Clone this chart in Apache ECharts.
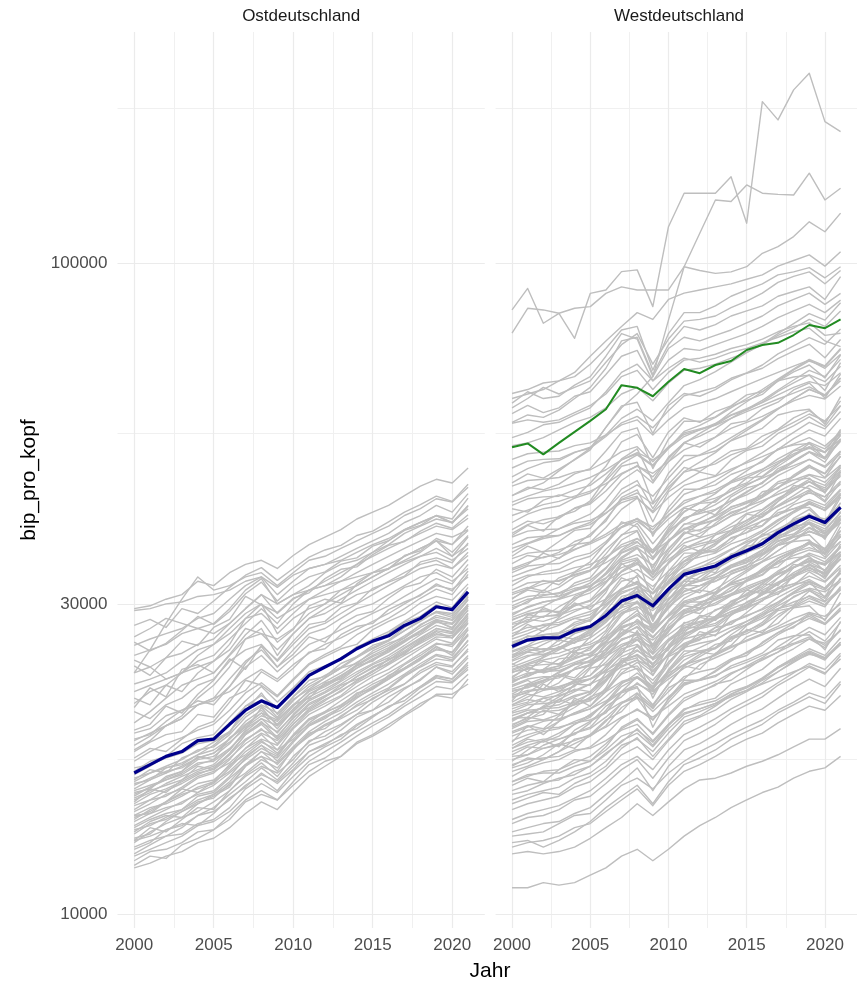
<!DOCTYPE html>
<html>
<head>
<meta charset="utf-8">
<script src="https://cdn.jsdelivr.net/npm/echarts@6.0.0/dist/echarts.min.js"></script>
<style>
html,body{margin:0;padding:0;background:#ffffff;}
#chart{width:857px;height:984px;}
</style>
</head>
<body>
<div id="chart"></div>
<script>
// ---------- Daten (Werte in Tausend Euro je Einwohner) ----------
const jahre = [2000,2001,2002,2003,2004,2005,2006,2007,2008,2009,2010,2011,2012,2013,2014,2015,2016,2017,2018,2019,2020,2021];

const xTicks = [2000, 2005, 2010, 2015, 2020];
const xMinorTicks = [2002.5, 2007.5, 2012.5, 2017.5];
const yTicks = [10000, 30000, 100000];
const yMinorTicks = [17320, 54772, 173205];

const panels = ['Ostdeutschland', 'Westdeutschland'];

// Mittelwert Ost (dunkelblau)
const ostMittel = [16.5,17.0,17.5,17.8,18.5,18.6,19.6,20.6,21.3,20.8,22.0,23.3,24.0,24.7,25.6,26.3,26.8,27.8,28.5,29.7,29.4,31.3];
// Mittelwert West (dunkelblau)
const westMittel = [25.8,26.4,26.6,26.6,27.3,27.7,28.8,30.3,30.9,29.8,31.6,33.3,33.8,34.3,35.4,36.2,37.1,38.6,39.8,40.9,40.0,42.2];
// hervorgehobener Kreis West (grün)
const westHervor = [52.2,52.9,50.9,53.0,55.1,57.3,59.7,65.0,64.4,62.5,65.8,68.8,67.8,69.8,70.8,73.6,74.9,75.5,77.6,80.4,79.5,82.0];

// Kreise Ost (grau)
const ostKreise = [
[29.5,29.8,30.5,31.0,32.5,32.0,33.5,34.5,35.0,34.0,35.6,37.0,38.0,39.0,40.5,41.5,42.5,44.0,45.5,46.6,46.0,48.5],
[29.3,29.5,30.0,30.2,30.8,31.0,31.5,32.5,33.0,31.8,33.2,34.0,34.5,35.0,36.0,37.0,37.8,39.0,40.0,41.0,40.0,42.5],
[23.5,25.5,28.0,30.5,33.0,31.5,32.0,33.0,33.5,32.0,33.5,35.0,35.5,36.5,37.5,38.5,39.5,41.0,42.0,43.5,43.0,45.3],
[25.9,26.5,27.0,27.5,28.5,29.0,30.5,32.0,33.0,31.0,32.5,34.0,34.5,35.5,36.5,37.5,38.5,40.0,41.0,42.5,41.5,44.3],
[25.0,25.5,26.0,27.0,27.5,28.0,29.5,31.5,32.8,30.0,31.0,32.0,33.5,34.5,35.0,36.0,37.5,39.0,40.0,41.0,40.5,43.6],
[23.5,24.0,24.8,25.2,26.0,26.5,28.0,29.5,31.0,29.0,30.5,31.5,32.0,33.0,34.5,35.5,36.5,37.5,38.5,39.5,39.0,40.6],
[22.6,23.0,23.5,24.5,25.5,26.0,27.0,28.5,29.0,27.5,29.0,30.5,31.0,31.5,32.5,33.5,34.5,35.5,36.5,37.5,36.0,38.2],
[21.1,22.0,22.5,23.5,24.0,24.5,26.0,28.5,30.0,27.0,28.5,29.5,30.0,31.5,32.0,33.0,34.0,35.0,36.0,37.5,35.5,37.0],
[19.7,20.5,21.5,22.5,23.0,23.5,25.0,26.5,27.0,25.5,27.0,28.5,29.0,30.0,31.0,31.5,32.5,33.5,34.5,35.0,34.0,35.6],
[17.9,18.5,19.5,20.0,21.0,21.5,23.0,24.5,25.5,24.0,25.5,27.0,27.5,28.5,29.5,30.0,31.0,32.0,33.0,33.5,32.5,34.0],
[24.6,24.0,23.0,23.5,25.0,26.0,27.5,29.0,30.0,28.5,29.5,30.5,31.5,32.5,33.5,34.5,35.5,36.5,37.5,38.5,38.0,39.0],
[26.7,27.5,28.5,28.0,27.5,27.0,28.0,29.5,31.0,30.0,31.0,31.5,32.0,32.5,33.0,33.5,34.0,34.8,35.5,36.0,35.0,36.5],
[22.0,22.5,23.0,23.5,24.5,25.0,26.5,28.0,29.5,28.0,30.0,31.5,32.5,33.5,34.5,36.0,37.0,38.5,39.5,40.5,40.0,42.0],
[20.5,20.0,21.0,21.5,22.5,23.0,24.5,25.5,26.0,24.5,26.0,27.5,28.0,29.0,30.0,31.0,32.0,33.0,34.0,34.5,34.0,36.0],
[18.2,18.8,19.5,20.2,21.5,22.5,24.0,26.5,27.5,25.0,27.0,28.5,29.5,30.5,31.5,32.5,33.5,34.5,35.5,36.5,35.5,38.0],
[21.5,21.0,22.5,22.0,23.5,24.5,25.5,27.5,27.0,26.5,27.5,29.0,30.0,31.0,32.0,33.0,34.0,35.5,36.5,37.5,37.0,39.5],
[11.8,12.0,12.3,12.5,12.9,13.1,13.6,14.3,14.9,14.5,15.4,16.3,16.9,17.5,18.3,18.8,19.4,20.2,20.9,21.8,21.8,22.6],
[12.1,12.5,12.6,12.9,13.4,13.5,14.2,15.0,15.5,15.0,16.0,17.0,17.4,18.1,18.8,19.5,20.1,20.9,21.6,22.4,22.2,23.4],
[12.4,12.8,13.2,13.3,13.8,14.0,14.6,15.6,16.2,15.5,16.6,17.5,18.1,18.6,19.5,20.2,20.8,21.6,22.4,23.3,23.0,24.4],
[12.7,13.0,13.2,13.6,14.2,14.6,15.3,16.0,16.8,16.1,17.1,18.2,18.6,19.2,20.1,20.6,21.2,22.2,23.0,24.0,23.6,25.0],
[12.9,13.4,13.8,14.1,14.4,14.9,15.5,16.4,17.1,16.3,17.5,18.4,19.1,19.6,20.3,21.2,21.9,22.6,23.5,24.2,24.0,25.6],
[13.1,13.3,13.9,14.4,14.9,15.1,15.9,16.5,17.3,16.8,17.9,19.0,19.3,20.2,20.9,21.4,22.2,23.2,24.0,24.7,24.5,26.0],
[13.3,13.8,14.0,14.4,14.8,15.2,15.7,16.9,17.5,16.6,18.0,18.9,19.6,20.1,21.0,21.7,22.3,23.3,24.1,25.0,24.6,26.4],
[13.5,13.7,14.1,14.5,15.2,15.4,16.2,17.0,17.8,17.4,18.5,19.5,20.1,20.6,21.5,22.3,23.0,23.8,24.6,25.6,25.3,27.0],
[13.7,14.1,14.5,14.9,15.3,15.5,16.3,17.4,18.2,17.2,18.4,19.5,20.0,20.8,21.6,22.2,23.0,23.9,24.8,25.8,25.2,27.4],
[13.9,14.3,14.6,14.8,15.4,15.8,16.5,17.3,18.0,17.5,18.8,19.9,20.4,21.0,21.8,22.6,23.2,24.2,25.0,26.0,26.0,27.6],
[14.0,14.5,14.9,15.4,15.9,16.1,16.9,18.0,18.9,17.9,19.3,20.3,20.9,21.6,22.4,23.2,23.8,24.7,25.6,26.5,26.1,28.0],
[14.2,14.6,14.8,15.2,15.7,16.0,16.6,17.5,18.2,17.6,18.8,19.6,20.2,20.8,21.7,22.4,23.1,23.9,24.8,25.5,25.3,26.8],
[14.4,14.8,15.3,15.6,16.2,16.5,17.3,18.5,19.3,18.3,19.6,20.7,21.4,22.0,22.9,23.7,24.3,25.2,26.2,27.2,26.6,28.6],
[14.5,15.0,15.2,15.7,16.3,16.6,17.1,18.0,18.6,18.2,19.4,20.5,21.1,21.7,22.7,23.4,24.2,25.0,25.8,26.7,26.6,28.3],
[14.7,15.0,15.5,15.9,16.4,16.8,17.7,18.9,19.6,18.6,19.8,21.0,21.6,22.3,23.2,23.9,24.6,25.6,26.5,27.5,27.1,29.0],
[14.8,15.3,15.6,16.0,16.5,16.7,17.4,18.3,19.0,18.5,19.6,20.6,21.3,22.1,22.8,23.6,24.4,25.3,26.1,26.9,26.8,28.5],
[15.0,15.4,15.9,16.3,16.7,17.0,17.9,19.1,20.0,19.0,20.3,21.4,22.0,22.8,23.6,24.3,25.0,25.9,26.9,27.8,27.4,29.4],
[15.1,15.5,15.8,16.1,16.6,16.9,17.6,18.6,19.2,18.8,20.0,21.1,21.7,22.3,23.2,24.0,24.6,25.4,26.4,27.3,27.0,28.8],
[15.3,15.7,16.2,16.6,17.3,17.5,18.3,19.5,20.4,19.3,20.6,21.8,22.5,23.2,24.2,25.0,25.7,26.6,27.6,28.4,28.0,30.0],
[15.5,15.8,16.1,16.4,17.0,17.3,18.0,19.0,19.7,19.1,20.2,21.3,21.9,22.6,23.4,24.2,24.8,25.7,26.6,27.5,27.2,29.0],
[15.6,16.1,16.5,16.9,17.4,17.7,18.6,19.8,20.6,19.6,20.9,22.1,22.8,23.5,24.4,25.2,25.9,26.8,27.8,28.8,28.4,30.4],
[15.8,16.2,16.6,16.8,17.4,17.7,18.4,19.3,20.0,19.5,20.7,21.8,22.4,23.1,23.9,24.7,25.4,26.3,27.2,28.1,27.9,29.6],
[16.0,16.5,16.9,17.3,17.9,18.1,18.9,20.1,20.9,20.0,21.3,22.4,23.1,23.9,24.8,25.6,26.3,27.3,28.2,29.2,28.8,30.8],
[16.2,16.5,16.8,17.1,17.6,17.9,18.6,19.6,20.4,19.9,21.0,22.0,22.6,23.3,24.1,24.9,25.5,26.4,27.3,28.3,28.0,29.8],
[13.0,13.2,13.5,13.7,14.2,14.4,15.0,15.8,16.4,16.0,16.9,17.8,18.3,18.8,19.6,20.2,20.8,21.6,22.4,23.2,23.0,24.2],
[14.1,14.4,14.9,15.3,15.6,15.9,16.8,17.8,18.5,17.7,18.9,20.0,20.5,21.3,22.1,22.8,23.5,24.3,25.2,26.1,25.8,27.4],
[15.2,15.7,16.1,16.5,17.1,17.2,17.9,19.2,20.8,19.5,20.5,21.6,22.2,22.9,23.9,24.6,25.3,26.2,27.2,28.3,27.5,29.8],
[12.3,12.6,12.9,13.2,13.7,13.9,14.4,15.2,15.9,15.4,16.3,17.2,17.8,18.4,19.1,19.7,20.3,21.1,22.0,22.8,22.7,23.8],
[16.4,16.9,17.5,17.8,18.4,18.7,19.7,20.9,21.7,20.8,22.2,23.4,24.0,24.8,25.7,26.5,27.2,28.2,29.2,30.2,29.6,31.8],
[16.8,17.0,17.4,17.7,18.3,18.5,19.1,20.3,21.0,20.4,21.6,22.6,23.3,24.0,24.9,25.7,26.4,27.3,28.3,29.2,29.0,30.7],
[17.2,17.8,18.3,18.7,19.2,19.6,20.6,21.9,22.7,21.7,23.0,24.3,25.1,25.8,26.9,27.7,28.5,29.5,30.6,31.6,31.0,33.3],
[13.6,14.0,14.3,14.5,15.0,15.3,16.0,17.0,17.5,17.1,18.1,19.1,19.8,20.4,21.2,21.9,22.6,23.4,24.3,25.1,24.8,26.3],
[18.5,19.0,19.5,20.0,21.0,21.3,22.4,24.0,25.0,23.6,24.8,26.0,26.6,27.4,28.2,29.0,29.8,30.8,31.8,32.8,32.2,34.5],
[19.0,19.3,20.2,20.6,21.0,21.5,22.0,23.0,23.8,23.0,24.2,25.2,26.0,26.6,27.4,28.2,29.0,30.0,31.0,32.0,31.6,33.0],
[19.2,19.6,20.9,20.4,21.8,22.9,24.7,23.8,25.9,24.6,26.3,27.9,28.2,29.6,30.1,31.7,32.4,33.1,34.8,35.3,34.7,37.2],
[20.8,22.3,21.6,23.8,24.2,23.5,25.1,26.9,28.3,26.2,27.4,29.8,30.5,30.1,32.2,33.5,33.9,35.6,36.2,37.8,37.0,38.9],
[24.1,23.3,24.8,26.3,25.9,27.6,28.4,30.8,29.9,29.1,30.6,31.2,32.8,33.9,34.2,35.7,36.9,37.4,38.8,39.9,39.2,41.1],
[18.6,18.9,19.8,20.6,21.3,21.0,22.4,24.3,25.8,24.0,25.1,26.7,26.2,27.9,28.8,29.2,30.6,31.8,32.3,33.9,33.0,35.1],
[17.4,18.0,17.8,18.6,19.4,19.8,21.2,22.9,22.5,21.6,22.9,24.2,24.9,25.6,26.0,27.4,28.2,28.9,30.1,30.8,30.4,32.2],
[16.6,17.2,17.5,18.3,18.7,18.9,20.1,21.3,22.4,21.2,22.3,23.6,24.1,24.6,25.8,26.3,27.0,28.1,28.7,29.9,29.3,31.0],
[15.9,16.1,16.8,17.0,17.6,18.2,19.1,20.6,21.9,20.3,21.4,22.2,23.1,23.9,24.3,25.4,26.1,26.6,27.9,28.6,28.3,29.9],
[14.9,15.6,15.4,16.1,16.9,16.7,17.6,18.9,19.8,18.7,20.1,20.8,21.6,22.5,23.0,23.6,24.7,25.1,26.3,27.0,26.6,28.1],
[14.2,14.3,14.9,15.6,15.4,16.0,17.0,17.6,18.4,17.9,18.6,19.7,20.5,20.9,21.9,22.2,23.3,23.9,24.7,25.8,25.0,26.9],
[13.4,13.9,14.2,14.1,14.8,15.3,15.8,16.9,17.8,17.0,18.0,18.8,19.5,20.0,20.6,21.5,22.1,22.6,23.7,24.4,24.1,25.4],
[12.6,12.9,13.5,13.8,13.7,14.3,15.1,15.7,16.5,15.9,16.7,17.8,18.2,18.9,19.3,20.1,20.9,21.3,22.3,23.1,22.8,24.0],
[15.4,15.6,16.3,16.6,17.5,17.3,18.7,19.4,20.2,19.8,21.0,21.5,22.7,23.0,24.1,24.5,25.6,26.4,27.0,28.2,27.6,29.3],
[16.1,16.7,16.5,17.4,17.8,18.4,19.0,20.9,21.3,20.1,21.6,22.9,23.2,24.3,24.9,25.9,26.4,27.6,28.4,29.1,28.6,30.5],
[17.8,18.4,18.9,19.1,20.3,20.1,21.5,22.1,23.6,22.8,23.9,25.3,25.6,26.9,27.7,28.0,29.4,30.2,30.9,32.2,31.4,33.7],
[26.2,25.4,26.1,27.3,28.7,27.9,29.2,31.1,32.4,30.3,31.9,33.0,33.6,34.9,35.3,36.8,37.5,38.9,39.6,41.0,39.9,42.4],
[27.8,28.4,27.6,29.5,29.0,30.3,31.8,33.2,34.1,32.6,34.0,35.4,36.3,36.9,38.2,38.8,40.1,41.5,42.6,43.9,43.1,45.8],
[13.0,13.6,13.4,14.0,14.6,14.5,15.5,16.3,16.9,16.5,17.3,18.5,18.8,19.5,20.3,20.6,21.6,22.3,22.9,24.0,23.4,24.8],
[11.9,12.3,12.2,12.8,13.1,13.5,14.0,14.9,15.3,15.0,15.8,16.6,17.2,17.5,18.4,18.9,19.6,20.3,21.1,21.7,21.5,23.0]
];

// Kreise West (grau)
const westKreise = [
[84.8,91.5,80.9,83.8,76.7,89.9,91.0,97.1,97.7,85.8,113.8,128.1,128.1,128.1,135.8,115.2,177.1,166.0,184.6,195.8,165.0,159.3],
[44.0,45.0,46.0,48.0,50.0,52.0,56.0,60.0,63.0,67.0,81.8,98.8,111.2,125.1,124.4,131.9,128.1,127.6,127.3,137.5,125.1,130.4],
[78.1,85.3,84.8,83.8,85.3,85.8,89.9,92.0,91.0,91.0,91.0,98.8,97.5,96.5,97.0,98.8,103.6,106.1,109.9,115.8,111.8,119.4],
[62.0,63.0,64.0,66.0,68.0,72.0,76.0,80.0,84.0,82.0,88.0,90.0,91.0,92.0,93.0,94.5,96.0,99.0,101.0,103.0,99.0,104.2],
[57.0,58.5,58.0,59.5,62.0,64.5,69.0,76.0,77.0,67.5,75.0,80.0,79.0,80.5,83.0,84.5,86.0,89.0,90.5,92.0,88.0,95.4],
[61.0,63.5,62.0,62.5,65.0,67.0,72.0,78.0,76.5,67.0,74.0,77.0,76.0,77.5,79.0,81.0,83.0,86.0,88.0,90.0,86.5,89.9],
[63.1,64.0,65.5,66.0,67.0,70.0,74.0,79.0,80.0,68.5,78.0,84.0,84.0,86.0,89.0,91.0,93.0,96.0,97.0,98.5,95.0,98.8],
[58.8,60.5,59.0,60.0,62.5,63.5,67.5,72.0,73.5,66.0,71.0,74.0,73.5,75.0,76.5,78.0,80.0,82.5,84.5,86.5,84.0,87.8],
[56.8,57.5,57.0,57.5,59.0,60.5,63.0,67.0,68.5,64.0,68.0,71.0,71.5,72.5,74.0,75.0,76.5,78.5,80.0,81.0,77.5,78.1],
[54.0,55.0,56.5,57.0,58.5,60.0,63.5,68.0,70.0,66.0,69.0,71.5,70.5,71.5,73.0,74.0,75.5,77.0,78.5,79.5,76.0,74.5],
[52.5,53.0,54.0,55.5,57.0,58.0,60.0,63.0,64.5,61.5,65.5,68.5,69.0,70.0,71.5,73.0,75.0,77.5,79.5,82.0,80.0,84.5],
[60.0,62.0,64.5,63.0,64.5,66.0,70.5,75.0,78.0,70.0,76.5,81.5,82.0,83.0,85.5,87.5,90.0,93.5,95.5,97.0,93.0,97.5],
[37.0,37.9,38.1,38.2,39.1,39.7,41.3,43.4,44.4,42.7,45.3,47.8,48.5,49.2,50.8,51.8,53.3,55.4,57.0,58.7,57.3,60.5],
[38.0,38.8,39.0,39.1,39.9,40.3,41.4,42.9,43.7,41.4,43.7,45.6,46.4,47.1,48.3,49.4,50.5,51.7,52.8,54.0,52.4,55.1],
[39.0,40.2,39.8,40.6,42.1,42.9,45.6,48.8,49.5,42.9,47.6,50.7,50.7,51.5,53.4,54.6,55.8,58.5,59.3,59.7,56.6,62.4],
[40.0,41.2,42.0,42.4,43.6,44.4,46.4,49.2,50.8,48.8,52.0,55.2,56.4,58.0,60.0,62.0,64.0,66.4,68.8,71.2,69.6,74.0],
[41.0,41.8,42.6,43.1,43.9,44.7,45.9,47.6,48.8,47.6,49.6,51.7,52.9,54.1,55.8,57.0,58.2,59.9,61.5,62.7,61.9,64.8],
[42.5,43.5,43.8,43.9,44.9,45.6,47.5,49.9,51.0,49.0,52.0,54.9,55.7,56.5,58.4,59.5,61.2,63.6,65.5,67.4,65.8,69.5],
[44.0,45.3,44.9,45.8,47.5,48.4,51.5,55.0,55.9,48.4,53.7,57.2,57.2,58.1,60.3,61.6,62.9,66.0,66.9,67.3,63.8,70.4],
[45.5,46.4,46.6,46.9,47.8,48.2,49.6,51.4,52.3,49.6,52.3,54.6,55.5,56.4,57.8,59.2,60.5,61.9,63.2,64.6,62.8,66.0],
[47.0,48.4,49.4,49.8,51.2,52.2,54.5,57.8,59.7,57.3,61.1,64.9,66.3,68.2,70.5,72.9,75.2,78.0,80.8,83.7,81.8,87.0],
[48.5,49.7,50.0,50.1,51.3,52.0,54.2,56.9,58.2,55.9,59.4,62.6,63.5,64.5,66.6,67.9,69.8,72.6,74.7,76.9,75.1,79.3],
[36.5,37.2,38.0,39.1,40.2,41.2,43.4,46.4,48.2,46.0,49.6,52.9,54.8,56.6,59.1,61.3,63.5,66.1,68.6,70.8,69.4,73.7],
[43.0,43.9,44.7,45.2,46.0,46.9,48.2,49.9,51.2,49.9,52.0,54.2,55.5,56.8,58.5,59.8,61.1,62.8,64.5,65.8,64.9,67.9],
[38.5,39.7,40.4,40.8,42.0,42.7,44.7,47.4,48.9,47.0,50.1,53.1,54.3,55.8,57.8,59.7,61.6,63.9,66.2,68.5,67.0,71.2],
[50.0,51.0,51.3,51.5,52.5,53.0,54.5,56.5,57.5,54.5,57.5,60.0,61.0,62.0,63.5,65.0,66.5,68.0,69.5,71.0,69.0,72.5],
[16.0,16.4,16.5,16.5,16.9,17.2,17.9,18.8,19.2,18.4,19.6,20.7,21.0,21.3,22.0,22.4,23.0,24.0,24.7,25.4,24.8,26.2],
[16.3,16.8,17.1,17.3,17.8,18.1,18.9,20.0,20.7,19.9,21.2,22.5,23.0,23.6,24.5,25.3,26.1,27.1,28.0,29.0,28.4,30.2],
[16.6,16.9,17.3,17.8,18.3,18.8,19.8,21.1,21.9,20.9,22.6,24.1,24.9,25.7,26.9,27.9,28.9,30.0,31.2,32.2,31.5,33.5],
[17.0,17.3,17.4,17.5,17.9,18.0,18.5,19.2,19.6,18.5,19.6,20.4,20.7,21.1,21.6,22.1,22.6,23.1,23.6,24.1,23.5,24.7],
[17.3,17.6,18.0,18.2,18.5,18.9,19.4,20.1,20.6,20.1,20.9,21.8,22.3,22.8,23.5,24.0,24.6,25.3,26.0,26.5,26.1,27.3],
[17.6,18.1,18.0,18.3,19.0,19.4,20.6,22.0,22.4,19.4,21.5,22.9,22.9,23.2,24.1,24.6,25.2,26.4,26.8,26.9,25.5,28.2],
[18.0,18.4,18.6,18.6,19.0,19.3,20.1,21.1,21.6,20.8,22.0,23.2,23.6,23.9,24.7,25.2,25.9,26.9,27.7,28.5,27.9,29.4],
[18.2,18.7,19.1,19.3,19.8,20.2,21.1,22.4,23.1,22.2,23.7,25.1,25.7,26.4,27.3,28.2,29.1,30.2,31.3,32.4,31.7,33.7],
[18.5,18.9,19.2,19.8,20.4,20.9,22.0,23.5,24.4,23.3,25.2,26.8,27.8,28.7,30.0,31.1,32.2,33.5,34.8,35.9,35.2,37.4],
[18.8,19.2,19.3,19.4,19.7,19.9,20.5,21.2,21.6,20.5,21.6,22.6,22.9,23.3,23.9,24.4,25.0,25.6,26.1,26.7,25.9,27.3],
[19.0,19.4,19.8,20.0,20.3,20.7,21.3,22.0,22.6,22.0,23.0,23.9,24.5,25.1,25.8,26.4,27.0,27.7,28.5,29.1,28.7,30.0],
[19.3,19.8,19.9,19.9,20.4,20.7,21.6,22.7,23.1,22.3,23.6,24.9,25.3,25.6,26.5,27.0,27.8,28.9,29.7,30.6,29.9,31.6],
[19.5,20.1,19.9,20.3,21.1,21.5,22.8,24.4,24.8,21.5,23.8,25.4,25.4,25.7,26.7,27.3,27.9,29.3,29.6,29.8,28.3,31.2],
[19.8,20.4,20.8,21.0,21.6,22.0,23.0,24.4,25.1,24.2,25.7,27.3,27.9,28.7,29.7,30.7,31.7,32.9,34.1,35.2,34.5,36.6],
[20.0,20.4,20.8,21.4,22.0,22.6,23.8,25.4,26.4,25.2,27.2,29.0,30.0,31.0,32.4,33.6,34.8,36.2,37.6,38.8,38.0,40.4],
[20.2,20.6,20.7,20.8,21.2,21.4,22.0,22.8,23.2,22.0,23.2,24.2,24.6,25.0,25.7,26.3,26.9,27.5,28.1,28.7,27.9,29.3],
[20.5,21.0,21.1,21.2,21.7,22.0,22.9,24.1,24.6,23.6,25.1,26.5,26.9,27.2,28.1,28.7,29.5,30.7,31.6,32.5,31.7,33.5],
[20.7,21.1,21.5,21.7,22.1,22.6,23.2,24.0,24.6,24.0,25.0,26.1,26.7,27.3,28.2,28.8,29.4,30.2,31.1,31.7,31.3,32.7],
[21.0,21.6,22.1,22.3,22.9,23.3,24.4,25.8,26.7,25.6,27.3,29.0,29.6,30.5,31.5,32.6,33.6,34.9,36.1,37.4,36.5,38.9],
[21.2,21.8,21.6,22.0,22.9,23.3,24.8,26.5,26.9,23.3,25.9,27.6,27.6,28.0,29.0,29.7,30.3,31.8,32.2,32.4,30.7,33.9],
[21.5,22.0,22.2,22.2,22.7,23.0,24.0,25.2,25.8,24.8,26.3,27.8,28.2,28.6,29.5,30.1,31.0,32.2,33.1,34.1,33.3,35.2],
[21.7,22.1,22.2,22.4,22.8,23.0,23.7,24.5,25.0,23.7,25.0,26.0,26.5,26.9,27.6,28.2,28.9,29.5,30.2,30.8,29.9,31.5],
[22.0,22.4,22.9,23.5,24.2,24.9,26.2,27.9,29.0,27.7,29.9,31.9,33.0,34.1,35.6,37.0,38.3,39.8,41.4,42.7,41.8,44.4],
[22.2,22.6,23.1,23.3,23.8,24.2,24.9,25.8,26.4,25.8,26.9,28.0,28.6,29.3,30.2,30.9,31.5,32.4,33.3,34.0,33.5,35.1],
[22.5,23.0,23.2,23.2,23.8,24.1,25.1,26.4,27.0,25.9,27.5,29.0,29.5,29.9,30.9,31.5,32.4,33.7,34.7,35.7,34.8,36.8],
[22.7,23.4,23.8,24.1,24.7,25.2,26.3,27.9,28.8,27.7,29.5,31.3,32.0,32.9,34.1,35.2,36.3,37.7,39.0,40.4,39.5,42.0],
[23.0,23.5,23.6,23.7,24.2,24.4,25.1,26.0,26.5,25.1,26.5,27.6,28.1,28.5,29.2,29.9,30.6,31.3,32.0,32.7,31.7,33.4],
[23.2,23.9,23.7,24.1,25.1,25.5,27.1,29.0,29.5,25.5,28.3,30.2,30.2,30.6,31.8,32.5,33.2,34.8,35.3,35.5,33.6,37.1],
[23.5,24.1,24.2,24.3,24.8,25.2,26.2,27.6,28.2,27.1,28.8,30.3,30.8,31.2,32.3,32.9,33.8,35.2,36.2,37.3,36.4,38.4],
[23.7,24.2,24.6,24.9,25.4,25.8,26.5,27.5,28.2,27.5,28.7,29.9,30.6,31.3,32.2,32.9,33.7,34.6,35.6,36.3,35.8,37.4],
[24.0,24.5,25.0,25.7,26.4,27.1,28.6,30.5,31.7,30.2,32.6,34.8,36.0,37.2,38.9,40.3,41.8,43.4,45.1,46.6,45.6,48.5],
[24.2,24.9,25.4,25.7,26.4,26.9,28.1,29.8,30.7,29.5,31.5,33.4,34.1,35.1,36.3,37.5,38.7,40.2,41.6,43.1,42.1,44.8],
[24.5,25.0,25.1,25.2,25.7,26.0,26.7,27.7,28.2,26.7,28.2,29.4,29.9,30.4,31.1,31.9,32.6,33.3,34.1,34.8,33.8,35.5],
[24.8,25.4,25.6,25.6,26.2,26.6,27.7,29.1,29.7,28.6,30.4,32.0,32.5,33.0,34.1,34.7,35.7,37.1,38.2,39.3,38.4,40.5],
[25.0,25.8,25.5,26.0,27.0,27.5,29.3,31.3,31.8,27.5,30.5,32.5,32.5,33.0,34.3,35.0,35.8,37.5,38.0,38.3,36.3,40.0],
[25.3,25.8,26.3,26.6,27.1,27.6,28.3,29.3,30.1,29.3,30.6,31.9,32.6,33.4,34.4,35.2,35.9,36.9,38.0,38.7,38.2,40.0],
[25.6,26.4,26.9,27.1,27.9,28.4,29.7,31.5,32.5,31.2,33.3,35.3,36.1,37.1,38.4,39.7,41.0,42.5,44.0,45.6,44.5,47.4],
[25.9,26.5,26.7,26.8,27.4,27.8,28.9,30.4,31.1,29.9,31.7,33.4,33.9,34.4,35.6,36.3,37.3,38.8,39.9,41.1,40.1,42.3],
[26.2,26.7,26.9,27.0,27.5,27.8,28.6,29.6,30.1,28.6,30.1,31.4,32.0,32.5,33.3,34.1,34.8,35.6,36.4,37.2,36.2,38.0],
[26.5,27.0,27.6,28.4,29.2,29.9,31.5,33.7,35.0,33.4,36.0,38.4,39.8,41.1,42.9,44.5,46.1,48.0,49.8,51.4,50.4,53.5],
[26.8,27.3,27.9,28.1,28.7,29.2,30.0,31.1,31.9,31.1,32.4,33.8,34.6,35.4,36.4,37.3,38.1,39.1,40.2,41.0,40.5,42.3],
[27.0,27.6,27.8,27.9,28.5,28.9,30.2,31.7,32.4,31.1,33.0,34.9,35.4,35.9,37.1,37.8,38.9,40.4,41.6,42.8,41.8,44.1],
[27.3,28.1,28.7,28.9,29.8,30.3,31.7,33.6,34.7,33.3,35.5,37.7,38.5,39.6,41.0,42.3,43.7,45.3,47.0,48.6,47.5,50.5],
[27.6,28.4,28.2,28.7,29.8,30.4,32.3,34.5,35.1,30.4,33.7,35.9,35.9,36.4,37.8,38.6,39.5,41.4,42.0,42.2,40.0,44.2],
[28.0,28.6,28.7,28.8,29.4,29.7,30.5,31.6,32.2,30.5,32.2,33.6,34.2,34.7,35.6,36.4,37.2,38.1,38.9,39.8,38.6,40.6],
[28.3,29.0,29.2,29.2,29.9,30.3,31.6,33.2,33.9,32.6,34.6,36.5,37.1,37.6,38.9,39.6,40.8,42.4,43.6,44.9,43.8,46.3],
[28.6,29.2,29.7,30.6,31.5,32.3,34.0,36.3,37.8,36.0,38.9,41.5,42.9,44.3,46.3,48.0,49.8,51.8,53.8,55.5,54.3,57.8],
[29.0,29.6,30.2,30.5,31.0,31.6,32.5,33.6,34.5,33.6,35.1,36.5,37.4,38.3,39.4,40.3,41.2,42.3,43.5,44.4,43.8,45.8],
[29.4,30.3,30.9,31.2,32.0,32.6,34.1,36.2,37.3,35.9,38.2,40.6,41.5,42.6,44.1,45.6,47.0,48.8,50.6,52.3,51.2,54.4],
[29.8,30.5,30.7,30.8,31.5,31.9,33.3,35.0,35.7,34.4,36.5,38.5,39.0,39.6,40.9,41.7,42.9,44.6,45.9,47.3,46.1,48.7],
[30.2,30.8,31.0,31.1,31.7,32.0,32.9,34.1,34.7,32.9,34.7,36.2,36.8,37.4,38.4,39.3,40.2,41.1,42.0,42.9,41.7,43.8],
[30.6,31.5,31.2,31.8,33.0,33.7,35.8,38.3,38.9,33.7,37.3,39.8,39.8,40.4,41.9,42.8,43.8,45.9,46.5,46.8,44.4,49.0],
[31.0,31.6,32.2,32.6,33.2,33.8,34.7,36.0,36.9,36.0,37.5,39.1,40.0,40.9,42.2,43.1,44.0,45.3,46.5,47.4,46.8,49.0],
[31.5,32.3,32.5,32.5,33.3,33.8,35.2,37.0,37.8,36.3,38.6,40.7,41.3,41.9,43.2,44.1,45.4,47.2,48.5,50.0,48.8,51.5],
[32.0,33.0,33.6,33.9,34.9,35.5,37.1,39.4,40.6,39.0,41.6,44.2,45.1,46.4,48.0,49.6,51.2,53.1,55.0,57.0,55.7,59.2],
[32.5,33.2,33.3,33.5,34.1,34.5,35.4,36.7,37.4,35.4,37.4,39.0,39.7,40.3,41.3,42.3,43.2,44.2,45.2,46.2,44.9,47.1],
[33.0,33.7,34.3,35.3,36.3,37.3,39.3,41.9,43.6,41.6,44.9,47.9,49.5,51.2,53.5,55.4,57.4,59.7,62.0,64.0,62.7,66.7],
[33.5,34.3,34.5,34.6,35.4,35.9,37.4,39.3,40.2,38.6,41.0,43.2,43.9,44.5,46.0,46.9,48.2,50.1,51.6,53.1,51.9,54.8],
[34.0,34.7,35.4,35.7,36.4,37.1,38.1,39.4,40.5,39.4,41.1,42.8,43.9,44.9,46.2,47.3,48.3,49.6,51.0,52.0,51.3,53.7],
[34.6,35.6,35.3,36.0,37.4,38.1,40.5,43.3,43.9,38.1,42.2,45.0,45.0,45.7,47.4,48.4,49.5,51.9,52.6,52.9,50.2,55.4],
[35.2,35.9,36.1,36.3,37.0,37.3,38.4,39.8,40.5,38.4,40.5,42.2,42.9,43.6,44.7,45.8,46.8,47.9,48.9,50.0,48.6,51.0],
[36.0,37.1,37.8,38.2,39.2,40.0,41.8,44.3,45.7,43.9,46.8,49.7,50.8,52.2,54.0,55.8,57.6,59.8,61.9,64.1,62.6,66.6],
[21.8,22.5,22.9,23.1,23.8,24.2,25.3,26.8,27.7,26.6,28.3,30.1,30.7,31.6,32.7,33.8,34.9,36.2,37.5,38.8,37.9,40.3],
[23.8,24.3,24.8,25.5,26.2,26.9,28.3,30.2,31.4,30.0,32.4,34.5,35.7,36.9,38.6,40.0,41.4,43.1,44.7,46.2,45.2,48.1],
[19.9,20.4,20.5,20.6,21.0,21.3,22.2,23.4,23.9,22.9,24.4,25.7,26.1,26.4,27.3,27.9,28.7,29.8,30.7,31.6,30.8,32.5],
[26.0,26.8,26.5,27.0,28.1,28.6,30.4,32.5,33.0,28.6,31.7,33.8,33.8,34.3,35.6,36.4,37.2,39.0,39.5,39.8,37.7,41.6],
[28.8,29.7,30.2,30.5,31.4,32.0,33.4,35.4,36.6,35.1,37.4,39.7,40.6,41.8,43.2,44.6,46.1,47.8,49.5,51.3,50.1,53.3],
[22.8,23.3,23.7,23.9,24.4,24.9,25.5,26.4,27.1,26.4,27.6,28.7,29.4,30.1,31.0,31.7,32.4,33.3,34.2,34.9,34.4,36.0],
[17.8,18.2,18.5,19.0,19.6,20.1,21.2,22.6,23.5,22.4,24.2,25.8,26.7,27.6,28.8,29.9,31.0,32.2,33.5,34.5,33.8,36.0],
[24.6,25.3,25.1,25.6,26.6,27.1,28.8,30.8,31.2,27.1,30.0,32.0,32.0,32.5,33.7,34.4,35.2,36.9,37.4,37.6,35.7,39.4],
[11.0,11.0,11.2,11.1,11.2,11.5,11.8,12.3,12.6,12.1,12.6,13.2,13.7,14.1,14.6,15.0,15.4,15.7,16.2,16.6,16.8,17.5],
[12.4,12.5,12.4,12.5,12.7,13.1,13.6,14.1,14.8,14.2,14.9,15.6,16.1,16.2,16.5,16.9,17.2,17.6,18.1,18.6,18.6,19.3],
[12.7,12.9,13.0,13.2,13.6,13.8,14.4,15.0,15.6,14.7,15.8,16.6,17.0,17.5,18.1,18.6,19.0,19.7,20.3,20.9,20.6,21.7],
[12.9,13.0,12.7,13.0,13.4,13.9,14.6,15.2,15.8,14.8,16.0,17.0,17.4,17.9,18.6,19.1,19.6,20.4,21.0,21.6,21.1,22.6],
[13.2,13.3,13.4,13.8,14.2,14.3,15.0,15.8,16.2,15.6,16.5,17.2,17.8,18.3,18.9,19.4,19.9,20.6,21.2,21.9,21.5,22.8],
[13.4,13.6,13.8,13.9,14.3,14.6,15.3,16.0,16.8,15.5,16.9,17.9,18.3,18.9,19.6,20.2,20.7,21.5,22.3,23.0,22.4,23.9],
[14.0,14.3,14.5,14.7,15.1,15.5,16.2,17.0,17.5,16.7,17.9,18.9,19.4,20.0,20.7,21.3,21.9,22.7,23.5,24.3,23.8,25.2],
[14.5,14.8,15.0,15.2,15.7,16.0,16.7,17.6,18.1,17.3,18.5,19.6,20.1,20.6,21.4,22.0,22.7,23.6,24.4,25.2,24.6,26.2],
[15.0,15.3,15.5,15.7,16.2,16.5,17.2,18.2,18.6,17.8,19.0,20.1,20.5,21.0,21.8,22.4,23.1,24.0,24.8,25.6,25.0,26.6],
[15.5,15.8,16.0,16.1,16.6,16.9,17.6,18.5,19.0,18.1,19.3,20.3,20.7,21.1,21.8,22.3,23.0,23.9,24.6,25.3,24.7,26.0],
[13.8,14.1,14.2,14.5,15.0,15.2,15.9,16.7,17.3,16.2,17.4,18.5,19.0,19.6,20.4,21.0,21.6,22.5,23.2,24.0,23.4,25.0],
[16.0,16.3,16.6,16.7,17.1,17.5,18.3,19.3,19.9,19.0,20.3,21.5,22.0,22.5,23.4,24.1,24.8,25.8,26.7,27.6,26.9,28.6],
[18.4,19.5,18.9,19.8,21.5,20.9,22.3,24.6,23.8,22.1,24.9,25.6,27.2,26.8,28.9,29.5,31.4,31.0,33.2,34.6,33.1,35.8],
[20.9,21.2,22.6,22.0,22.4,23.9,24.2,25.1,27.3,24.6,25.5,28.1,27.9,29.4,29.8,31.5,31.1,32.9,34.5,34.2,32.8,35.6],
[24.3,23.6,24.9,25.8,25.2,26.7,28.9,29.6,31.8,28.2,31.4,32.1,33.9,33.5,35.8,36.2,38.4,38.1,40.6,41.9,39.8,43.7],
[26.7,27.9,27.2,28.6,30.1,29.4,31.2,34.6,33.4,31.5,34.8,36.9,36.1,38.3,38.9,41.2,40.8,43.1,45.6,45.1,43.2,47.8],
[19.6,20.0,20.3,21.4,21.0,21.9,23.5,24.2,25.9,24.1,26.4,27.1,28.6,28.3,29.9,30.6,32.2,32.0,34.1,35.3,34.4,36.7],
[22.4,22.9,22.1,22.7,23.9,24.6,25.3,27.4,27.0,25.3,27.8,29.3,29.0,30.6,30.9,32.6,33.8,34.2,35.9,37.1,35.4,38.2],
[17.2,17.9,18.5,18.1,19.2,19.8,20.4,21.9,22.3,21.0,22.6,24.1,23.8,25.2,25.9,27.4,27.1,28.6,29.8,30.9,30.2,31.7],
[27.9,28.2,29.6,29.0,30.4,31.8,33.5,35.9,36.7,33.2,36.4,38.7,38.0,39.9,41.5,42.2,44.6,45.1,47.3,49.0,46.9,50.6],
[21.3,22.6,22.2,23.4,23.1,24.3,26.1,26.8,28.4,27.2,28.9,30.6,31.5,31.2,33.4,34.0,35.6,36.9,37.5,39.2,38.0,40.9],
[25.4,25.9,26.8,26.3,27.7,28.3,30.6,32.9,32.2,29.8,33.1,34.2,35.8,36.2,37.4,39.1,39.6,41.8,42.9,44.7,43.0,46.1],
[16.8,17.1,17.6,18.3,18.0,18.9,19.9,20.5,21.8,20.7,22.3,23.0,24.2,24.8,25.4,26.7,27.3,28.0,29.6,30.3,29.7,31.9],
[23.1,24.0,23.5,23.9,25.3,25.0,26.6,28.1,29.3,27.9,29.6,31.7,31.2,32.8,33.6,34.3,36.1,37.4,38.2,39.9,38.8,41.5],
[29.6,30.1,31.5,30.8,32.3,32.9,35.1,37.6,38.8,35.2,38.9,40.3,41.9,41.1,43.8,45.2,45.9,48.4,49.6,51.3,49.5,53.8],
[19.1,19.5,19.3,20.2,20.8,21.6,22.1,23.8,24.1,22.6,24.4,25.9,26.4,27.6,27.9,29.1,30.4,31.1,32.0,33.6,32.5,34.4],
[20.4,20.7,21.5,21.2,22.6,22.5,24.1,25.6,26.0,24.8,26.3,27.4,28.8,28.6,30.3,31.0,31.9,33.4,34.1,35.0,34.6,36.1],
[24.9,25.6,25.3,26.4,26.1,27.3,29.2,30.1,30.9,28.4,31.0,33.1,32.6,34.0,35.3,35.9,37.7,38.5,39.4,41.3,39.6,42.9],
[22.9,23.2,23.8,24.7,24.9,25.7,26.8,28.8,30.3,28.7,30.4,32.6,33.7,34.1,35.2,36.8,37.1,38.9,40.4,41.1,40.2,42.8],
[18.0,18.6,18.4,18.8,19.6,20.3,21.1,22.0,23.2,22.4,23.3,24.6,25.3,25.1,26.6,27.2,28.1,29.5,29.9,31.4,30.6,32.8],
[31.2,31.8,31.4,32.9,33.6,34.8,37.2,40.1,39.4,36.0,39.2,42.1,41.6,43.3,44.7,46.8,47.1,49.2,51.5,52.2,50.1,54.6],
[26.1,26.4,27.3,27.8,28.5,28.2,29.9,31.5,33.2,31.9,33.7,34.9,36.3,36.0,37.9,38.6,40.3,41.0,42.6,43.4,42.5,45.0],
[21.6,21.9,22.7,23.3,22.9,24.0,25.6,27.0,27.6,25.9,27.2,29.2,30.1,30.8,31.4,32.7,33.3,34.9,36.0,36.6,35.9,38.1],
[27.5,28.8,29.4,29.1,30.8,31.5,32.8,35.2,36.5,34.1,37.6,39.2,38.8,40.5,42.3,42.9,44.1,46.2,47.0,48.9,47.6,51.4],
[20.0,20.1,20.9,21.6,22.2,22.0,23.2,24.5,25.4,24.7,25.8,27.0,27.6,28.5,28.9,30.2,31.0,31.7,33.0,33.8,33.0,35.2],
[23.6,23.8,24.5,24.2,25.6,26.2,27.3,29.9,30.2,27.4,29.7,31.0,31.6,32.9,34.4,34.8,36.3,37.9,38.4,40.0,38.4,41.0],
[33.8,34.5,35.9,35.2,36.8,38.4,40.2,43.7,44.9,40.1,44.6,46.3,47.8,47.2,49.9,51.6,52.4,54.8,56.3,58.1,56.2,60.4],
[38.2,39.6,38.8,40.9,41.6,43.2,46.7,50.1,51.9,46.3,50.4,53.0,52.2,54.1,56.7,57.3,59.8,61.2,63.9,65.5,62.1,67.6],
[42.0,41.5,43.3,44.1,43.6,46.0,48.8,53.2,54.6,50.3,55.1,57.9,57.0,59.2,60.4,62.8,63.5,65.9,68.1,69.8,66.7,72.3],
[35.5,36.8,36.0,37.4,38.9,39.2,41.9,45.0,46.4,42.0,45.8,48.6,47.9,49.7,51.5,52.0,54.3,55.6,57.9,59.4,57.0,61.5],
[46.0,47.5,46.8,48.3,49.9,51.7,56.0,60.4,61.2,54.8,60.5,63.1,62.5,64.0,66.2,67.8,69.0,71.4,73.3,75.1,71.6,76.4],
[15.8,16.2,16.0,16.7,17.3,17.2,18.1,19.4,20.0,18.9,20.2,21.3,21.9,22.6,22.9,23.8,24.7,25.3,26.4,27.2,26.3,28.1],
[16.9,17.4,17.3,17.8,18.6,18.8,19.5,20.8,21.5,19.9,21.4,22.7,22.9,23.7,24.6,25.0,26.2,27.1,27.6,28.9,28.0,29.6],
[17.5,17.6,18.2,18.6,18.9,19.7,20.9,21.6,22.7,21.8,23.5,24.2,25.1,26.0,26.3,27.8,28.5,29.4,30.8,31.5,30.3,32.9],
[14.8,15.1,15.4,15.3,15.9,16.3,16.9,18.0,18.7,17.5,18.6,19.8,20.2,20.9,21.7,22.1,22.9,23.6,24.5,25.1,24.8,26.0],
[15.3,15.5,15.9,16.2,16.4,16.9,17.7,18.4,19.3,18.2,19.5,20.6,21.2,21.5,22.6,23.2,23.8,24.9,25.6,26.5,25.7,27.4],
[19.4,19.9,20.6,20.3,21.3,21.8,22.9,24.7,25.0,23.9,25.7,26.6,27.5,28.4,29.2,29.7,31.2,32.3,32.9,34.4,33.4,35.7],
[22.1,22.3,22.8,23.6,24.3,24.5,25.9,27.1,28.0,26.0,28.3,29.8,29.6,31.2,32.1,32.5,34.0,35.3,36.2,37.3,36.0,38.8],
[25.1,25.3,26.0,26.7,26.5,27.4,28.4,30.3,31.0,29.6,31.2,32.6,33.4,33.9,35.0,36.0,36.7,38.0,39.2,40.1,39.1,41.4],
[28.4,28.9,28.6,29.7,30.6,31.2,32.4,34.8,35.3,32.9,35.6,37.2,37.9,38.5,39.8,41.3,41.9,43.6,44.8,46.2,44.6,47.9],
[30.5,31.7,32.6,32.1,33.5,34.2,36.4,38.2,39.9,37.1,39.6,41.6,42.8,43.0,45.1,46.0,47.9,49.3,50.7,52.9,51.3,55.6],
[21.0,21.4,21.2,21.8,22.5,23.0,23.6,24.9,25.5,24.3,25.6,26.9,27.5,27.8,29.0,29.5,30.4,31.6,32.2,33.1,32.4,34.1]
];

// ---------- Aufbau ----------
const FONT = '"Liberation Sans", Arial, Helvetica, sans-serif';
const GREY = '#bebebe';

function punkte(werte) {
  return werte.map((v, i) => [jahre[i], v * 1000]);
}

const series = [];

// Gitterlinien je Panel (unter den Daten)
[0, 1].forEach(p => {
  const md = [];
  xMinorTicks.forEach(v => md.push({ xAxis: v, lineStyle: { color: '#f0f0f0', width: 1 } }));
  yMinorTicks.forEach(v => md.push({ yAxis: v, lineStyle: { color: '#f0f0f0', width: 1 } }));
  xTicks.forEach(v => md.push({ xAxis: v, lineStyle: { color: '#ebebeb', width: 1.2 } }));
  yTicks.forEach(v => md.push({ yAxis: v, lineStyle: { color: '#ebebeb', width: 1.2 } }));
  series.push({
    type: 'line', xAxisIndex: p, yAxisIndex: p, data: [], silent: true, z: 0,
    markLine: {
      silent: true, symbol: ['none', 'none'], label: { show: false },
      animation: false, z: 0, emphasis: { disabled: true },
      lineStyle: { type: 'solid' },
      data: md
    }
  });
});

function linie(werte, p, farbe, breite, z) {
  return {
    type: 'line', xAxisIndex: p, yAxisIndex: p,
    data: punkte(werte), showSymbol: false, symbol: 'none', silent: true,
    z: z, animation: false,
    lineStyle: { color: farbe, width: breite, join: 'round' },
    emphasis: { disabled: true }
  };
}

ostKreise.forEach(w => series.push(linie(w, 0, GREY, 1.4, 2)));
westKreise.forEach(w => series.push(linie(w, 1, GREY, 1.4, 2)));
series.push(linie(westHervor, 1, '#228b22', 2, 3));
series.push(linie(ostMittel, 0, '#00008b', 3.2, 4));
series.push(linie(westMittel, 1, '#00008b', 3.2, 4));

const gridTop = 32, gridHeight = 896;

const option = {
  animation: false,
  backgroundColor: '#ffffff',
  grid: [
    { left: 117.5, width: 367.3, top: gridTop, height: gridHeight },
    { left: 495.6, width: 366.9, top: gridTop, height: gridHeight }
  ],
  xAxis: [0, 1].map(p => ({
    type: 'value', gridIndex: p, min: 1998.95, max: 2022.05,
    axisLine: { show: false }, axisTick: { show: false }, splitLine: { show: false },
    axisLabel: {
      customValues: xTicks,
      formatter: v => String(Math.round(v)),
      color: '#4d4d4d', fontSize: 17, fontFamily: FONT, margin: 9
    }
  })),
  yAxis: [0, 1].map(p => ({
    type: 'log', logBase: 10, gridIndex: p, min: 9540, max: 226500,
    axisLine: { show: false }, axisTick: { show: false }, splitLine: { show: false },
    minorSplitLine: { show: false },
    axisLabel: p === 0 ? {
      customValues: yTicks,
      formatter: v => String(Math.round(v)),
      color: '#4d4d4d', fontSize: 17, fontFamily: FONT, margin: 10
    } : { show: false },
    name: p === 0 ? 'bip_pro_kopf' : '',
    nameLocation: 'middle', nameGap: 78, nameRotate: 90,
    nameTextStyle: { color: '#000000', fontSize: 21, fontFamily: FONT }
  })),
  graphic: [
    { type: 'text', x: 301.2, y: 16, silent: true,
      style: { text: panels[0], fill: '#1a1a1a', font: '17px ' + FONT, align: 'center', verticalAlign: 'middle', textAlign: 'center', textVerticalAlign: 'middle' } },
    { type: 'text', x: 679, y: 16, silent: true,
      style: { text: panels[1], fill: '#1a1a1a', font: '17px ' + FONT, align: 'center', verticalAlign: 'middle', textAlign: 'center', textVerticalAlign: 'middle' } },
    { type: 'text', x: 490, y: 971, silent: true,
      style: { text: 'Jahr', fill: '#000000', font: '21px ' + FONT, align: 'center', verticalAlign: 'middle', textAlign: 'center', textVerticalAlign: 'middle' } }
  ],
  series: series
};

const chart = echarts.init(document.getElementById('chart'), null, { renderer: 'canvas' });
chart.setOption(option);
</script>
</body>
</html>
